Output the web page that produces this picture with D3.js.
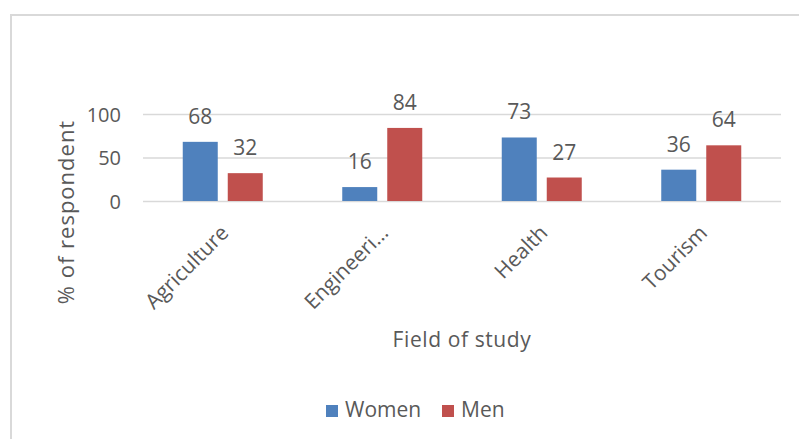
<!DOCTYPE html>
<html>
<head>
<meta charset="utf-8">
<script src="https://cdn.jsdelivr.net/npm/d3@7"></script>
<style>
  html, body { margin: 0; padding: 0; background: #ffffff; }
  svg { display: block; }
  text { font-family: "Open Sans", "Noto Sans", sans-serif; fill: #595959; }
</style>
</head>
<body>
<svg id="chart" width="799" height="439"></svg>
<script>
// Share of respondents by gender within each field of study (%)
const categories = ["Agriculture", "Engineeri\u2026", "Health", "Tourism"];
const seriesNames = ["Women", "Men"];
const women = [68, 16, 73, 36];
const men = [32, 84, 27, 64];
const yTicks = [0, 50, 100];
const colors = ["#4f81bd", "#c0504d"];

const values = [women, men];
const svg = d3.select("#chart");

// outer chart frame
svg.append("rect")
  .attr("x", 11).attr("y", 15)
  .attr("width", 800).attr("height", 440)
  .attr("fill", "#ffffff")
  .attr("stroke", "#d9d9d9")
  .attr("stroke-width", 2);

const plot = { left: 143, right: 781, top: 114, bottom: 201 };

const x0 = d3.scaleBand()
  .domain(categories)
  .range([plot.left, plot.right])
  .padding(0);

const x1 = d3.scaleBand()
  .domain(seriesNames)
  .range([x0.bandwidth() / 2 - 40, x0.bandwidth() / 2 + 40])
  .paddingInner(2 / 9)
  .paddingOuter(0);

const y = d3.scaleLinear()
  .domain([0, 100])
  .range([plot.bottom, plot.top]);

// gridlines and y tick labels
const yAxis = d3.axisLeft(y)
  .tickValues(yTicks)
  .tickSize(-(plot.right - plot.left))
  .tickPadding(22);

const gy = svg.append("g")
  .attr("transform", `translate(${plot.left},0)`)
  .call(yAxis);
gy.select(".domain").remove();
gy.selectAll(".tick line")
  .attr("stroke", "#d9d9d9")
  .attr("stroke-width", 1.3);
gy.selectAll(".tick text")
  .attr("fill", "#595959")
  .style("font-size", "20px")
  .style("font-family", "'Open Sans', sans-serif")
  .attr("dy", "0.36em");

// bars
const groups = svg.append("g")
  .selectAll("g")
  .data(categories)
  .join("g")
  .attr("transform", d => `translate(${x0(d)},0)`);

const cells = groups.selectAll("g.cell")
  .data((d, i) => seriesNames.map((s, j) => ({ series: s, j, value: values[j][i] })))
  .join("g")
  .attr("class", "cell");

cells.append("rect")
  .attr("x", d => x1(d.series))
  .attr("y", d => y(d.value))
  .attr("width", x1.bandwidth())
  .attr("height", d => y(0) - y(d.value))
  .attr("fill", d => colors[d.j]);

// value labels above bars
cells.append("text")
  .attr("x", d => x1(d.series) + x1.bandwidth() / 2)
  .attr("y", d => y(d.value) - 18)
  .attr("text-anchor", "middle")
  .style("font-size", "21px")
  .text(d => d.value);

// rotated category labels
svg.append("g")
  .selectAll("text")
  .data(categories)
  .join("text")
  .attr("transform", d => `translate(${x0(d) + x0.bandwidth() / 2 + 2},${plot.bottom + 28}) rotate(-45)`)
  .attr("text-anchor", "end")
  .attr("dy", "0.35em")
  .style("font-size", "21px")
  .text(d => d);

// axis titles
svg.append("text")
  .attr("x", (plot.left + plot.right) / 2)
  .attr("y", 347)
  .attr("text-anchor", "middle")
  .style("font-size", "21px")
  .style("letter-spacing", "0.6px")
  .text("Field of study");

svg.append("text")
  .attr("transform", `translate(74,212) rotate(-90)`)
  .attr("text-anchor", "middle")
  .style("font-size", "22px")
  .style("letter-spacing", "1px")
  .text("% of respondent");

// legend
const legend = svg.append("g")
  .selectAll("g")
  .data(seriesNames)
  .join("g")
  .attr("transform", (d, i) => `translate(${[326, 442][i]},405)`);

legend.append("rect")
  .attr("width", 12).attr("height", 12)
  .attr("fill", (d, i) => colors[i]);

legend.append("text")
  .attr("x", 19)
  .attr("y", 12)
  .style("font-size", "21px")
  .text(d => d);
</script>
</body>
</html>
